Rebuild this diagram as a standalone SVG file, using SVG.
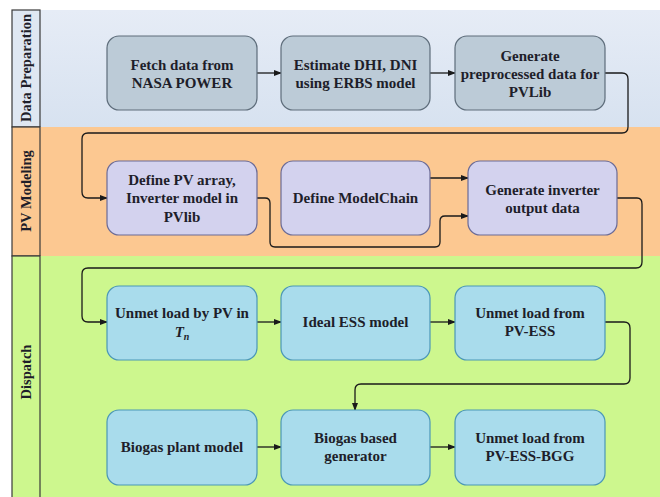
<svg xmlns="http://www.w3.org/2000/svg" width="660" height="497" viewBox="0 0 660 497" font-family="Liberation Serif, Times New Roman, serif">
<defs>
<linearGradient id="gBlue" x1="0" y1="0" x2="0" y2="1">
<stop offset="0" stop-color="#e6ecf6"/><stop offset="1" stop-color="#d7e2f0"/>
</linearGradient>
<marker id="arr" markerWidth="8" markerHeight="6" refX="7" refY="3" orient="auto" markerUnits="userSpaceOnUse">
<path d="M0,0 L8,3 L0,6 Z" fill="#1a1a1a"/>
</marker>
<style>
.lane{stroke:#3a3a3a;stroke-width:1.2}
.lbl{font-weight:bold;font-size:14.5px;fill:#1e1e2a;text-anchor:middle}
.t{font-weight:bold;font-size:15px;fill:#1e1e2a;text-anchor:middle}
.n1{fill:#bccbd7;stroke:#5e6d7b;stroke-width:1.2}
.n2{fill:#d3d2ee;stroke:#6b6b96;stroke-width:1.2}
.n3{fill:#a9dcec;stroke:#4b97b6;stroke-width:1.2}
.c{fill:none;stroke:#1a1a1a;stroke-width:1.3;marker-end:url(#arr)}
</style>
</defs>
<rect x="0" y="0" width="660" height="497" fill="#ffffff"/>
<g id="lane-data">
<rect x="40" y="10" width="620" height="117" fill="url(#gBlue)"/>
<rect x="12" y="10" width="28" height="117" fill="#dfe7f2" class="lane"/>
<text class="lbl" font-family="Liberation Serif, serif" transform="translate(31,68) rotate(-90)">Data Preparation</text>
</g>
<g id="lane-pv">
<rect x="40" y="127" width="620" height="129" fill="#fcc891"/>
<rect x="12" y="127" width="28" height="129" fill="#fcc891" class="lane"/>
<text class="lbl" font-family="Liberation Serif, serif" transform="translate(31,191) rotate(-90)">PV Modeling</text>
</g>
<g id="lane-dispatch">
<rect x="40" y="256" width="620" height="241" fill="#cdf78e"/>
<rect x="12" y="256" width="28" height="245" fill="#cdf78e" class="lane"/>
<text class="lbl" font-family="Liberation Serif, serif" transform="translate(31,372) rotate(-90)">Dispatch</text>
</g>
<g id="connectors">
<path class="c" d="M257,73 L281,73"/>
<path class="c" d="M430,73 L455,73"/>
<path class="c" d="M605,73 L622,73 Q628,73 628,79 L628,127 Q628,133 622,133 L88,133 Q82,133 82,139 L82,192 Q82,198 88,198 L107,198"/>
<path class="c" d="M430,178 L468,178"/>
<path class="c" d="M257,198 L265,198 Q270,198 270,203 L270,242 Q270,247 275,247 L435,247 Q440,247 440,242 L440,221 Q440,216 445,216 L468,216"/>
<path class="c" d="M617,198 L637,198 Q642,198 642,204 L642,262 Q642,268 636,268 L88,268 Q82,268 82,274 L82,316 Q82,322 88,322 L107,322"/>
<path class="c" d="M257,322 L281,322"/>
<path class="c" d="M430,322 L455,322"/>
<path class="c" d="M605,322 L624,322 Q630,322 630,328 L630,378 Q630,384 624,384 L361,384 Q355,384 355,390 L355,410"/>
<path class="c" d="M257,447 L281,447"/>
<path class="c" d="M430,447 L455,447"/>
</g>
<g id="fetch" font-family="Liberation Serif, serif"><rect class="n1" x="107" y="36" width="150" height="74" rx="12"/>
<text class="t" x="182" y="70">Fetch data from</text><text class="t" x="182" y="88">NASA POWER</text></g>
<g id="estimate" font-family="Liberation Serif, serif"><rect class="n1" x="281" y="36" width="149" height="74" rx="12"/>
<text class="t" x="355.5" y="70">Estimate DHI, DNI</text><text class="t" x="355.5" y="88">using ERBS model</text></g>
<g id="preprocess" font-family="Liberation Serif, serif"><rect class="n1" x="455" y="36" width="150" height="74" rx="12"/>
<text class="t" x="530" y="61">Generate</text><text class="t" x="530" y="79">preprocessed data for</text><text class="t" x="530" y="97">PVLib</text></g>
<g id="define-pv" font-family="Liberation Serif, serif"><rect class="n2" x="107" y="161" width="150" height="74" rx="12"/>
<text class="t" x="182" y="185">Define PV array,</text><text class="t" x="182" y="203">Inverter model in</text><text class="t" x="182" y="222">PVlib</text></g>
<g id="modelchain" font-family="Liberation Serif, serif"><rect class="n2" x="281" y="161" width="149" height="74" rx="12"/>
<text class="t" x="355.5" y="203">Define ModelChain</text></g>
<g id="inverter" font-family="Liberation Serif, serif"><rect class="n2" x="468" y="161" width="149" height="74" rx="12"/>
<text class="t" x="542.5" y="195">Generate inverter</text><text class="t" x="542.5" y="213">output data</text></g>
<g id="unmet-pv" font-family="Liberation Serif, serif"><rect class="n3" x="107" y="286" width="150" height="74" rx="12"/>
<text class="t" x="182" y="318">Unmet load by PV in</text>
<text class="t" x="182" y="337"><tspan font-style="italic">T</tspan><tspan font-style="italic" font-size="10px" dy="3">n</tspan></text></g>
<g id="ess" font-family="Liberation Serif, serif"><rect class="n3" x="281" y="286" width="149" height="74" rx="12"/>
<text class="t" x="355.5" y="327">Ideal ESS model</text></g>
<g id="unmet-ess" font-family="Liberation Serif, serif"><rect class="n3" x="455" y="286" width="150" height="74" rx="12"/>
<text class="t" x="530" y="318">Unmet load from</text><text class="t" x="530" y="336">PV-ESS</text></g>
<g id="biogas-plant" font-family="Liberation Serif, serif"><rect class="n3" x="107" y="410" width="150" height="75" rx="12"/>
<text class="t" x="182" y="452">Biogas plant model</text></g>
<g id="bgg" font-family="Liberation Serif, serif"><rect class="n3" x="281" y="410" width="149" height="75" rx="12"/>
<text class="t" x="355.5" y="443">Biogas based</text><text class="t" x="355.5" y="461">generator</text></g>
<g id="unmet-bgg" font-family="Liberation Serif, serif"><rect class="n3" x="455" y="410" width="150" height="75" rx="12"/>
<text class="t" x="530" y="443">Unmet load from</text><text class="t" x="530" y="461">PV-ESS-BGG</text></g>
</svg>
